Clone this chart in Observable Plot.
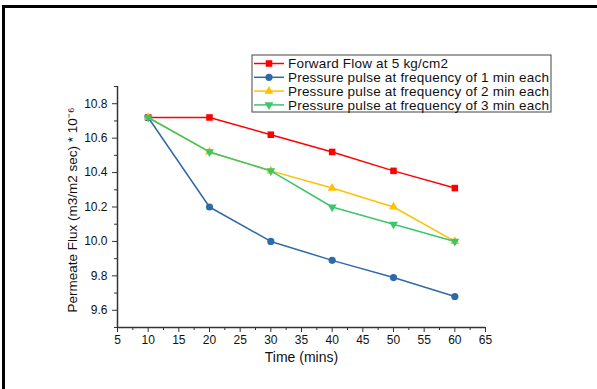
<!DOCTYPE html>
<html><head><meta charset="utf-8">
<script src="https://cdn.jsdelivr.net/npm/d3@7"></script>
<script src="https://cdn.jsdelivr.net/npm/@observablehq/plot@0.6"></script>
<style>
html,body{margin:0;padding:0;background:#fff;}
#wrap{position:relative;width:597px;height:389px;font-family:"Liberation Sans",Arial,sans-serif;}
#bt{position:absolute;left:2px;top:5px;width:595px;height:3px;background:#000;}
#bl{position:absolute;left:2px;top:5px;width:3px;height:384px;background:#000;}
svg{display:block;}
</style></head>
<body><div id="wrap"><div id="bt"></div><div id="bl"></div></div>
<script>
const time = [10, 20, 30, 40, 50, 60];
const seriesNames = [
  "Forward Flow at 5 kg/cm2",
  "Pressure pulse at frequency of 1 min each",
  "Pressure pulse at frequency of 2 min each",
  "Pressure pulse at frequency of 3 min each"
];
const forwardFlow = [10.72, 10.72, 10.62, 10.52, 10.41, 10.31];
const pulse1min = [10.72, 10.20, 10.00, 9.89, 9.79, 9.68];
const pulse2min = [10.72, 10.52, 10.41, 10.31, 10.20, 10.00];
const pulse3min = [10.72, 10.52, 10.41, 10.20, 10.10, 10.00];
const seriesValues = [forwardFlow, pulse1min, pulse2min, pulse3min];
const colors = ["#ff0000", "#2f6aa8", "#ffc000", "#3cc66c"];
const symbols = ["square", "circle", "triangle", "triangle"];
const rotations = [0, 0, 0, 180];
const xTicks = [5, 10, 15, 20, 25, 30, 35, 40, 45, 50, 55, 60, 65];
const xMinor = [7.5, 12.5, 17.5, 22.5, 27.5, 32.5, 37.5, 42.5, 47.5, 52.5, 57.5, 62.5];
const yTicks = [9.6, 9.8, 10.0, 10.2, 10.4, 10.6, 10.8];
const yMinor = [9.5, 9.7, 9.9, 10.1, 10.3, 10.5, 10.7, 10.9];
const xLabel = "Time (mins)";
const yLabel = "Permeate Flux (m3/m2 sec) * 10\u207B\u2076";

const rows = seriesNames.map((name, i) => time.map((t, j) => ({series: name, time: t, value: seriesValues[i][j]})));
const radius = [3.7, 3.6, 3.3, 3.3];

const marks = [
  Plot.axisX(xMinor, {tickSize: 3, tickFormat: () => "", label: null, stroke: "#333"}),
  Plot.axisX(xTicks, {tickSize: 5, tickPadding: 3, label: null, fontSize: 12, stroke: "#333", fill: "#111"}),
  Plot.axisY(yMinor, {tickSize: 3, tickFormat: () => "", label: null, stroke: "#333"}),
  Plot.axisY(yTicks, {tickSize: 5, tickPadding: 5, label: null, fontSize: 12, tickFormat: d3.format(".1f"), stroke: "#333", fill: "#111"}),
  Plot.ruleY([9.5], {stroke: "#333", strokeWidth: 1.5}),
  Plot.ruleX([5], {stroke: "#333", strokeWidth: 1.5}),
  Plot.text([xLabel], {frameAnchor: "bottom", dy: 34, fontSize: 14, fill: "#111"}),
  Plot.text([yLabel], {frameAnchor: "left", textAnchor: "middle", dx: -45, dy: 3, rotate: -90, fontSize: 13.5, fill: "#111"})
];
rows.forEach((data, i) => {
  marks.push(Plot.line(data, {x: "time", y: "value", stroke: colors[i], strokeWidth: 1.5}));
  marks.push(Plot.dot(data, {x: "time", y: "value", fill: colors[i], stroke: "none", symbol: symbols[i], r: radius[i], rotate: rotations[i]}));
});

const chart = Plot.plot({
  width: 597,
  height: 389,
  marginLeft: 117,
  marginRight: 112,
  marginTop: 86,
  marginBottom: 62,
  style: {fontFamily: "'Liberation Sans', Arial, sans-serif", background: "transparent", color: "#111"},
  x: {domain: [5, 65]},
  y: {domain: [9.5, 10.9]},
  marks
});

// legend
const svg = d3.select(chart);
const lg = svg.append("g").attr("transform", "translate(252,55)").attr("text-anchor", "start");
lg.append("rect").attr("x", 0).attr("y", 0).attr("width", 299).attr("height", 57)
  .attr("fill", "#fff").attr("stroke", "#444").attr("stroke-width", 1);
const symMap = {square: d3.symbolSquare, circle: d3.symbolCircle, triangle: d3.symbolTriangle};
seriesNames.forEach((name, i) => {
  const g = lg.append("g").attr("transform", `translate(0,${8.5 + i * 13.8})`);
  g.append("line").attr("x1", 2).attr("x2", 32).attr("y1", 0).attr("y2", 0)
    .attr("stroke", colors[i]).attr("stroke-width", 1.5);
  g.append("path").attr("d", d3.symbol(symMap[symbols[i]], Math.PI * radius[i] * radius[i])())
    .attr("transform", `translate(17,0) rotate(${rotations[i]})`).attr("fill", colors[i]);
  g.append("text").attr("x", 36).attr("y", 0).attr("dy", "0.35em").attr("text-anchor", "start")
    .attr("font-size", 13.5).attr("letter-spacing", 0.2).attr("fill", "#111").text(name);
});

document.getElementById("wrap").appendChild(chart);
</script>
</body></html>
